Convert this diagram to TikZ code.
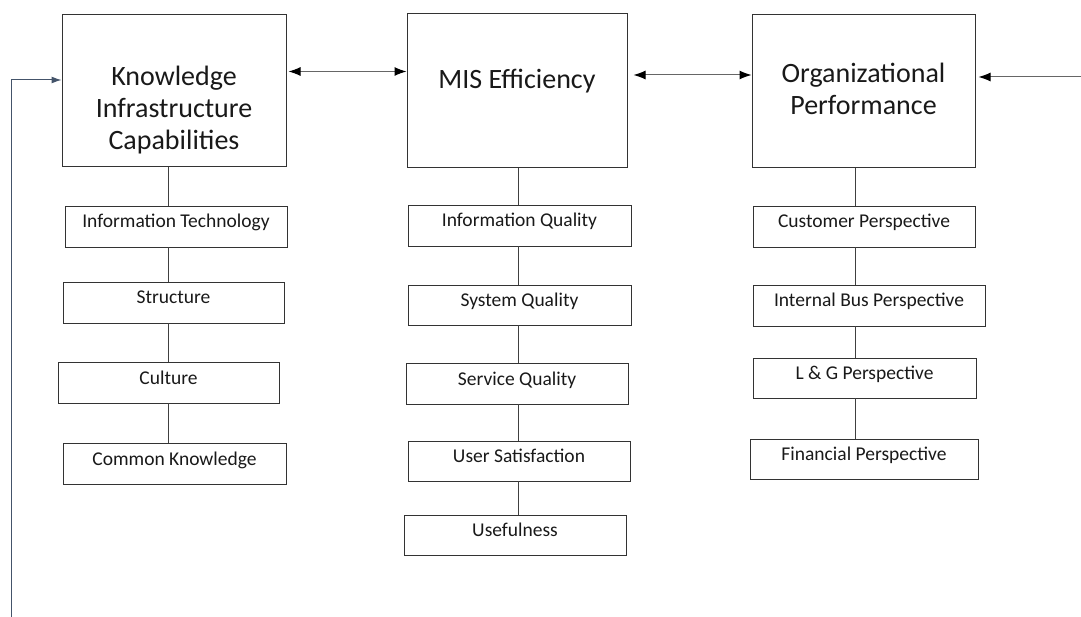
\documentclass[tikz,border=0pt]{standalone}
\usepackage{fontspec}
\setmainfont{Carlito}
\usetikzlibrary{arrows.meta,calc}

\definecolor{fbblue}{RGB}{68,84,106}

\begin{document}
\begin{tikzpicture}[x=1pt,y=-1pt]
      \tikzset{
        mainbox/.style={draw=black!80,line width=1pt,minimum width=222pt,minimum height=153pt,inner sep=0pt},
        maintext/.style={align=center,font=\fontsize{28}{32}\selectfont,text=black!90},
        subbox/.style={draw=black!80,line width=0.9pt,minimum width=222pt,minimum height=41pt,inner sep=0pt,
          text height=13pt,text depth=10pt,font=\fontsize{19.5}{23}\selectfont,text=black!90},
        link/.style={draw=black!75,line width=0.9pt},
        both/.style={draw=black!60,line width=1pt,{Latex[length=12pt,width=9pt,color=black]}-{Latex[length=12pt,width=9pt,color=black]}},
        into/.style={draw=black!60,line width=1pt,-{Latex[length=12pt,width=9pt,color=black]}},
        fbline/.style={draw=fbblue,line width=1pt,-{Latex[length=10pt,width=7pt]}}
      }
      \useasboundingbox (0,0) rectangle (1081,617);

      % main boxes
      \node[mainbox,minimum width=224pt,minimum height=152pt] (kic) at (174,91) {};
      \node[mainbox,minimum width=220pt,minimum height=154pt] (mis) at (517,91) {};
      \node[mainbox,minimum width=223pt] (op) at (863.5,91.5) {};
      \node[maintext] (kict) at ($(kic.center)+(0,19)$) {Knowledge\\Infrastructure\\Capabilities};
      \node[maintext] (mist) at ($(mis.center)+(0,-10)$) {MIS Efficiency};
      \node[maintext] (opt) at ($(op.center)+(0,-3)$) {Organizational\\Performance};

      % left column
      \node[subbox] (it) at (176,226.5) {Information Technology};
      \node[subbox,minimum width=221pt] (st) at (173.5,302.5) {Structure};
      \node[subbox,minimum width=221pt] (cu) at (168.5,382.5) {Culture};
      \node[subbox,minimum width=223pt] (ck) at (174.5,463.5) {Common Knowledge};

      % middle column
      \node[subbox,minimum width=223pt] (iq) at (519.5,225.5) {Information Quality};
      \node[subbox,minimum width=223pt,minimum height=40pt] (sq) at (519.5,305) {System Quality};
      \node[subbox] (sv) at (517,383.5) {Service Quality};
      \node[subbox,minimum height=40pt] (us) at (519,461) {User Satisfaction};
      \node[subbox,minimum height=40pt] (uf) at (515,535) {Usefulness};

      % right column
      \node[subbox] (cp) at (864,226.5) {Customer Perspective};
      \node[subbox,minimum width=232pt] (ib) at (869,305.5) {Internal Bus Perspective};
      \node[subbox,minimum width=223pt,minimum height=40pt] (lg) at (864.5,378) {L \& G Perspective};
      \node[subbox,minimum width=228pt,minimum height=40pt] (fp) at (864,459) {Financial Perspective};

      \coordinate (colA) at (168,0);
      \coordinate (colB) at (518,0);
      \coordinate (colC) at (855,0);
      \coordinate (rin) at (1081,77);
      \coordinate (fb) at (11,617);

      \foreach \a/\b in {kic/it,it/st,st/cu,cu/ck}
        \draw[link] (\a.south -| colA) -- (\b.north -| colA);
      \foreach \a/\b in {mis/iq,iq/sq,sq/sv,sv/us,us/uf}
        \draw[link] (\a.south -| colB) -- (\b.north -| colB);
      \foreach \a/\b in {op/cp,cp/ib,ib/lg,lg/fp}
        \draw[link] (\a.south -| colC) -- (\b.north -| colC);

      \draw[both,shorten <=2pt] ([yshift=19.5pt]kic.east) -- ([yshift=19.5pt]mis.west);
      \draw[both,shorten <=6pt] ([yshift=16pt]mis.east) -- ([yshift=16pt]mis.east -| op.west);
      \draw[into,shorten >=3pt] (rin) -- (rin -| op.east);
      \draw[fbline] (fb) |- ([yshift=11pt]kic.west);
    \end{tikzpicture}
\end{document}
